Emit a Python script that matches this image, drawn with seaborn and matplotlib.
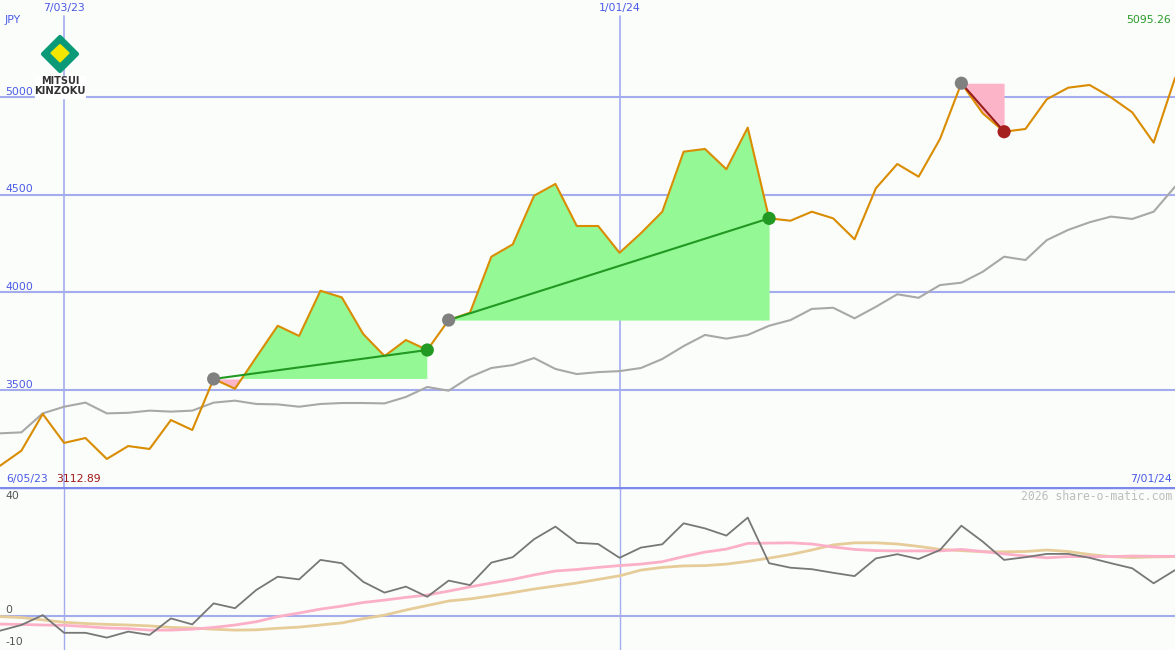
import matplotlib
matplotlib.use("Agg")
import matplotlib.pyplot as plt
import matplotlib.patches as mpatches
import numpy as np
import pandas as pd
import seaborn as sns

# weekly closes, JPY (first week 6/12/23 .. last week 7/01/24)
price = [3113, 3190, 3378, 3230, 3255, 3148, 3214, 3199, 3347, 3296,
         3557, 3507, 3669, 3829, 3777, 4008, 3974, 3787, 3674, 3756,
         3705, 3858, 3896, 4182, 4245, 4494, 4554, 4339, 4339, 4202,
         4302, 4412, 4719, 4733, 4629, 4842, 4378, 4366, 4412, 4378,
         4271, 4532, 4656, 4591, 4784, 5069, 4915, 4821, 4835, 4987,
         5046, 5060, 4997, 4920, 4765, 5095.26]

# moving average (grey)
ma = [3279, 3284, 3381, 3415, 3436, 3381, 3384, 3395, 3390, 3395,
      3436, 3446, 3429, 3427, 3415, 3429, 3434, 3434, 3432, 3465,
      3516, 3497, 3567, 3613, 3628, 3664, 3608, 3582, 3592, 3597,
      3613, 3659, 3725, 3782, 3763, 3782, 3829, 3858, 3915, 3921,
      3867, 3926, 3990, 3972, 4037, 4049, 4105, 4182, 4165, 4267,
      4319, 4358, 4387, 4375, 4412, 4540]

# lower panel oscillator + two smoothings
osc = [-4.9, -3.0, 0.3, -5.6, -5.6, -7.2, -5.2, -6.3, -0.8, -2.8,
       4.2, 2.6, 8.7, 13.1, 12.2, 18.7, 17.6, 11.4, 7.8, 9.8,
       6.4, 11.8, 10.3, 17.8, 19.6, 25.6, 29.8, 24.4, 24.0, 19.4,
       22.8, 23.9, 30.9, 29.2, 26.8, 32.8, 17.6, 16.1, 15.6, 14.4,
       13.3, 19.2, 20.6, 19.0, 22.0, 30.1, 24.8, 18.7, 19.6, 20.7,
       20.7, 19.4, 17.6, 15.9, 10.9, 15.3]
osc_fast = [-2.7, -2.8, -3.0, -3.1, -3.5, -4.0, -4.2, -4.7, -4.7, -4.4,
            -3.8, -3.0, -1.9, -0.2, 1.0, 2.3, 3.3, 4.5, 5.3, 6.2,
            7.0, 8.3, 9.7, 11.0, 12.2, 13.7, 15.0, 15.5, 16.2, 16.8,
            17.3, 18.1, 19.8, 21.3, 22.3, 24.2, 24.3, 24.4, 24.0, 23.0,
            22.2, 21.8, 21.7, 21.7, 21.7, 22.2, 21.5, 20.7, 20.0, 19.4,
            19.8, 19.8, 19.8, 20.0, 19.9, 19.9]
osc_slow = [-0.2, -0.5, -1.3, -2.1, -2.5, -2.8, -3.0, -3.3, -3.8, -4.0,
            -4.4, -4.7, -4.6, -4.1, -3.7, -3.0, -2.3, -0.9, 0.3, 2.0,
            3.5, 5.0, 5.7, 6.7, 7.8, 9.0, 10.0, 11.0, 12.2, 13.4,
            15.3, 16.2, 16.7, 16.8, 17.3, 18.2, 19.3, 20.5, 22.0, 23.7,
            24.4, 24.4, 24.0, 23.2, 22.2, 21.8, 21.4, 21.4, 21.5, 22.0,
            21.5, 20.5, 19.8, 19.5, 19.7, 19.8]

# trades: buy week index / sell week index
buys = [10, 21, 45]
sells = [20, 36, 47]

price_grid = [3500, 4000, 4500, 5000]
date_ticks = [3, 29]
date_labels = ['7/03/23', '1/01/24']

df = pd.DataFrame({'week': np.arange(len(price)), 'price': price, 'ma': ma,
                   'osc': osc, 'fast': osc_fast, 'slow': osc_slow})

sns.set_style('white')
plt.rcParams['font.family'] = ['DejaVu Sans']

W, H = 1175, 650
bg = '#fbfdfa'
grid = '#a4acf0'
blue_txt = '#4a5ae8'

fig = plt.figure(figsize=(W / 100, H / 100), dpi=100, facecolor=bg)
ax1 = fig.add_axes([0, 163 / H, 1, 487 / H], facecolor=bg)
ax2 = fig.add_axes([0, 0, 1, 163 / H], facecolor=bg)

for ax in (ax1, ax2):
    ax.set_xlim(0, len(price) - 1)
    for s in ax.spines.values():
        s.set_visible(False)
    ax.set_xticks([])
    ax.set_yticks([])
    ax.set_xlabel('')
    ax.set_ylabel('')

ax1.set_ylim(3004.6, 5494.4)
ax2.set_ylim(-11.33, 43)

# grid
for g in price_grid:
    ax1.axhline(g, color=grid, lw=1.5, zorder=1)
for d in date_ticks:
    ax1.axvline(d, color=grid, lw=1.2, ymax=1 - 16 / 487, zorder=1)
    ax2.axvline(d, color=grid, lw=1.0, zorder=1)
ax2.axhline(0, color=grid, lw=1.5, zorder=1)
ax2.axhline(43, color='#7c88ec', lw=2.5, zorder=5)

# trade shading
for b, s in zip(buys, sells):
    xs = df['week'][b:s + 1].values
    ys = df['price'][b:s + 1].values
    entry = price[b]
    ax1.fill_between(xs, ys, entry, where=ys >= entry, interpolate=True,
                     color='#94f894', lw=0, zorder=2)
    ax1.fill_between(xs, ys, entry, where=ys <= entry, interpolate=True,
                     color='#fbb4c8', lw=0, zorder=2)

sns.lineplot(data=df, x='week', y='ma', ax=ax1, color='#a8a8a8', lw=1.5, zorder=3)
sns.lineplot(data=df, x='week', y='price', ax=ax1, color='#d98c00', lw=1.5, zorder=4)

for b, s in zip(buys, sells):
    win = price[s] > price[b]
    lc = '#229922' if win else '#9b1c1c'
    tr = pd.DataFrame({'week': [b, s], 'price': [price[b], price[s]]})
    sns.lineplot(data=tr, x='week', y='price', ax=ax1, color=lc, lw=1.5, zorder=5)
    sns.scatterplot(x=[b], y=[price[b]], ax=ax1, color='#808080', s=90,
                    edgecolor='none', zorder=6)
    sns.scatterplot(x=[s], y=[price[s]], ax=ax1, color='#229922' if win else '#a51f1f',
                    s=90, edgecolor='none', zorder=6)

# lower panel
sns.lineplot(data=df, x='week', y='slow', ax=ax2, color='#e6cc98', lw=2.0, zorder=3)
sns.lineplot(data=df, x='week', y='fast', ax=ax2, color='#fbb0c8', lw=2.0, zorder=3)
sns.lineplot(data=df, x='week', y='osc', ax=ax2, color='#777777', lw=1.3, zorder=4)
for ax in (ax1, ax2):
    ax.set_xlabel('')
    ax.set_ylabel('')
    ax.set_xticks([])
    ax.set_yticks([])


def ptext(x, y, s, **kw):
    kw.setdefault('fontsize', 7.8)
    kw.setdefault('va', 'center')
    fig.text(x / W, 1 - y / H, s, **kw)


ptext(5, 20, 'JPY', color=blue_txt)
for d, lab in zip(date_ticks, date_labels):
    ptext(d * W / (len(price) - 1), 8, lab, color=blue_txt, ha='center')
ptext(1171, 20, '5095.26', color='#2a9a2a', ha='right')
for g in price_grid:
    ytop = 96.7 + (5000 - g) * 97.8 / 500
    ptext(5, ytop - 5, str(g), color=blue_txt)
ptext(6, 479, '6/05/23', color=blue_txt)
ptext(56, 479, '3112.89', color='#a01818')
ptext(1172, 479, '7/01/24', color=blue_txt, ha='right')
ptext(1172, 496, '2026 share-o-matic.com', color='#bdbdbd', ha='right',
      family='DejaVu Sans Mono', fontsize=8.3)
ptext(5, 496, '40', color='#555555')
ptext(5, 610, '0', color='#555555')
ptext(5, 642, '-10', color='#555555')

# logo
lg = fig.add_axes([34 / W, 1 - 100 / H, 52 / W, 70 / H])
lg.set_xlim(34, 86)
lg.set_ylim(100, 30)
lg.axis('off')
lg.add_patch(mpatches.Rectangle((35, 76), 50, 22, color='white', zorder=1))
lg.add_patch(mpatches.Polygon([(60, 37), (77, 54), (60, 71), (43, 54)],
                              closed=True, fc='#0a9a78', ec='#0a9a78', lw=3,
                              joinstyle='round', zorder=2))
lg.add_patch(mpatches.Polygon([(60, 45), (68.5, 53), (60, 61.5), (51.5, 53)],
                              closed=True, fc='#f5e600', ec='#f5e600', lw=1.5,
                              joinstyle='round', zorder=3))
lg.text(60, 81, 'MITSUI', ha='center', va='center', fontsize=7, weight='bold',
        color='#333333', zorder=4)
lg.text(60, 91, 'KINZOKU', ha='center', va='center', fontsize=7.3, weight='bold',
        color='#333333', zorder=4)

fig.savefig('out.png', dpi=100, facecolor=bg)
